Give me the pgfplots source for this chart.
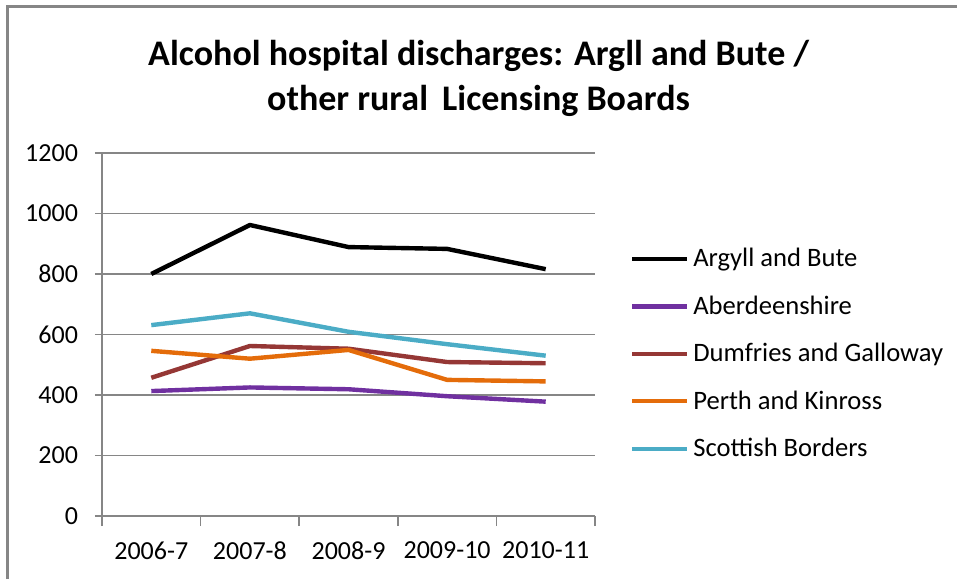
\documentclass[border=0pt]{standalone}
\usepackage{pgfplots}
\pgfplotsset{compat=1.18}
\usepackage{fontspec}
\setmainfont{Carlito}

\definecolor{gridgray}{HTML}{868686}
\definecolor{abpurple}{HTML}{7030A0}
\definecolor{dgbrown}{HTML}{953735}
\definecolor{pkorange}{HTML}{E46C0A}
\definecolor{sbcyan}{HTML}{4BACC6}

\begin{document}
\begin{tikzpicture}
  % page size in pt (1 px = 0.5 pt)
  \useasboundingbox (0,0) rectangle (478.5pt,289.5pt);
  \draw[gridgray, line width=1.5pt] (3.5pt,0pt) -- (3.5pt,286pt) -- (478.5pt,286pt);

  \node[font=\fontsize{18}{22.5}\selectfont\bfseries, align=center]
    at (239.25pt,250.5pt)
    {Alcohol hospital discharges: Argll and Bute /\\other rural\, Licensing Boards};

  \begin{axis}[
      at={(51pt,31.5pt)}, anchor=south west,
      scale only axis,
      width=246.5pt, height=181.5pt,
      xmin=-0.5, xmax=4.5, ymin=0, ymax=1200,
      xtick={0,1,2,3,4},
      xticklabels={2006-7,2007-8,2008-9,2009-10,2010-11},
      minor xtick={-0.5,0.5,1.5,2.5,3.5,4.5},
      ytick={0,200,...,1200},
      axis x line*=bottom, axis y line*=left,
      axis line style={gridgray, line width=0.8pt, -},
      ymajorgrids, major grid style={gridgray, line width=0.8pt},
      tick align=outside,
      major x tick style={draw=none},
      minor x tick style={gridgray, line width=0.8pt},
      major y tick style={gridgray, line width=0.8pt},
      major tick length=3.5pt, minor tick length=5pt,
      tick label style={font=\fontsize{13}{15}\selectfont},
      yticklabel style={xshift=-5pt},
      xticklabel style={yshift=-6pt},
      /pgf/number format/assume math mode=true,
      scaled y ticks=false,
      yticklabel={\pgfmathprintnumber[fixed,1000 sep={}]{\tick}},
      legend cell align=left,
      legend style={at={(1.07,0.75)}, anchor=north west, draw=none, fill=none,
        font=\fontsize{13.3}{15}\selectfont, row sep=9pt, inner sep=0pt},
      legend image code/.code={\draw[#1] (0pt,0pt) -- (27.5pt,0pt);},
      every axis plot/.append style={line width=2.2pt, line join=round},
    ]
    \addplot[black] coordinates {(0,800) (1,962) (2,889) (3,883) (4,816)};
    \addlegendentry{Argyll and Bute}
    \addplot[abpurple] coordinates {(0,413) (1,425) (2,419) (3,396) (4,378)};
    \addlegendentry{Aberdeenshire}
    \addplot[dgbrown] coordinates {(0,457) (1,562) (2,553) (3,509) (4,505)};
    \addlegendentry{Dumfries and Galloway}
    \addplot[pkorange] coordinates {(0,546) (1,520) (2,549) (3,450) (4,445)};
    \addlegendentry{Perth and Kinross}
    \addplot[sbcyan] coordinates {(0,631) (1,670) (2,609) (3,568) (4,530)};
    \addlegendentry{Scottish Borders}
  \end{axis}
\end{tikzpicture}
\end{document}
